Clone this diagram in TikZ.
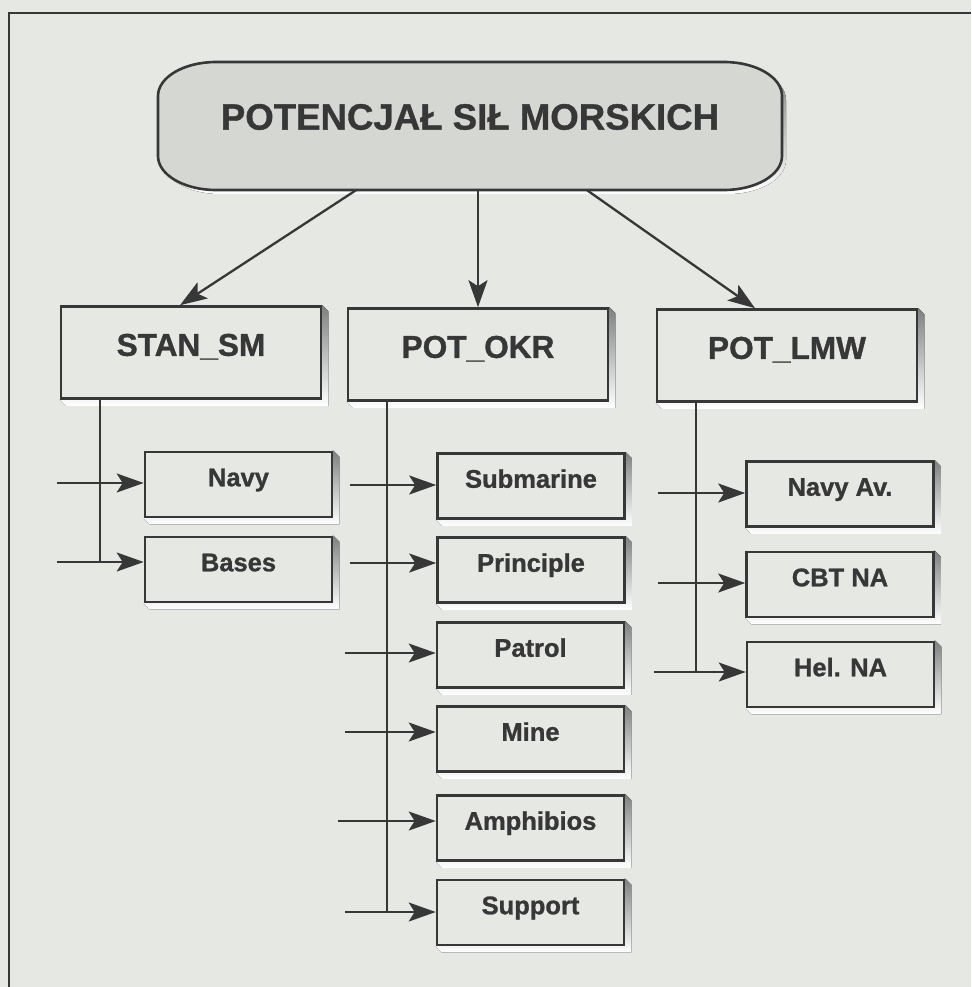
\documentclass[tikz,border=0pt]{standalone}
\usepackage{fontspec}
\setmainfont{Liberation Sans}[BoldFeatures={FakeBold=1}]
\usetikzlibrary{arrows.meta,backgrounds}

\definecolor{page}{RGB}{229,232,227}
\definecolor{ink}{RGB}{55,55,55}
\definecolor{shade}{RGB}{105,105,105}
\definecolor{capfill}{RGB}{213,215,211}

% outline of the top capsule with elliptical corners
\newcommand{\capsuleoutline}{%
  (216,62) -- (724,62)
  arc[start angle=90,end angle=0,x radius=58pt,y radius=34pt] -- (782,156)
  arc[start angle=0,end angle=-90,x radius=58pt,y radius=34pt] -- (216,190)
  arc[start angle=-90,end angle=-180,x radius=58pt,y radius=34pt] -- (158,96)
  arc[start angle=180,end angle=90,x radius=58pt,y radius=34pt] -- cycle}

\begin{document}
\begin{tikzpicture}[x=1pt,y=-1pt,
  box/.style={draw=ink, line width=2.6pt, fill=page, inner sep=0pt, text=ink,
    font=\bfseries\fontsize{25.5}{26}\selectfont,
    minimum width=187pt, minimum height=65pt,
    text height=17.5pt, text depth=14pt},
  head/.style={box, minimum width=260pt, minimum height=92pt,
    font=\bfseries\fontsize{31.6}{32}\selectfont,
    text height=21.7pt, text depth=15pt},
  link/.style={draw=ink, line width=2.3pt},
  arr/.style={link, -{Stealth[length=27pt,width=19pt,inset=6pt]}},
  frame/.style={draw=ink, line width=1.6pt},
]
\useasboundingbox (0,0) rectangle (971,987);

% page frame
\draw[frame] (9,987) -- (9,13) -- (971,13);

% top capsule with its shadow
\fill[shade, shift={(4,4)}] \capsuleoutline;
\draw[ink, line width=2.6pt, fill=capfill] \capsuleoutline;
\node[inner sep=0pt, text=ink, font=\bfseries\fontsize{36.6}{37}\selectfont,
      minimum width=624pt, minimum height=128pt,
      text height=25.2pt, text depth=18pt] (main) at (470,126)
      {POTENCJAŁ SIŁ MORSKICH};

% second level
\node[head] (stan) at (191,352.5) {STAN\_SM};
\node[head] (okr)  at (478,354.5) {POT\_OKR};
\node[head] (lmw)  at (787,355.5) {POT\_LMW};

% components of STAN_SM
\node[box] (navy)  at (238.5,484.5) {Navy};
\node[box] (bases) at (238.5,569.5) {Bases};

% components of POT_OKR
\node[box] (sub)    at (531,486)   {Submarine};
\node[box] (princ)  at (531,570)   {Principle};
\node[box] (patrol) at (530.5,655) {Patrol};
\node[box] (mine)   at (530.5,739) {Mine};
\node[box] (amph)   at (530.5,828) {Amphibios};
\node[box] (supp)   at (530.5,912.5) {Support};

% components of POT_LMW
\node[box] (navyav) at (840,494)   {Navy Av.};
\node[box] (cbt)    at (840,584.5) {CBT NA};
\node[box] (hel)    at (840.5,674.5) {Hel. NA};

% links from the capsule
\draw[arr] ([xshift=-114pt]main.south) -- ([xshift=-11pt]stan.north);
\draw[arr] (main.south -| okr.north) -- (okr.north);
\draw[arr] ([xshift=117pt]main.south) -- ([xshift=-32pt]lmw.north);

% free ends of the incoming arrows
\coordinate (inNavy)   at (57,483);
\coordinate (inBases)  at (57,562);
\coordinate (inSub)    at (350,485);
\coordinate (inPrinc)  at (350,563);
\coordinate (inPatrol) at (345,653);
\coordinate (inMine)   at (345,732);
\coordinate (inAmph)   at (338,821);
\coordinate (inSupp)   at (345,912);
\coordinate (inNavyAv) at (658,493);
\coordinate (inCbt)    at (658,583);
\coordinate (inHel)    at (654,672);

% trunks below the second level
\coordinate (trunkStan) at (100,562);
\coordinate (trunkOkr)  at (387,912);
\coordinate (trunkLmw)  at (696,672);
\draw[link] (trunkStan |- stan.south) -- (trunkStan);
\draw[link] (trunkOkr |- okr.south) -- (trunkOkr);
\draw[link] (trunkLmw |- lmw.south) -- (trunkLmw);

% incoming arrows
\foreach \src/\dst in {inNavy/navy, inBases/bases, inSub/sub, inPrinc/princ,
    inPatrol/patrol, inMine/mine, inAmph/amph, inSupp/supp,
    inNavyAv/navyav, inCbt/cbt, inHel/hel}
  \draw[arr] (\src) -- (\src -| \dst.west);

% page colour and bevel shadows of the boxes
\begin{scope}[on background layer]
  \fill[page] (0,0) rectangle (971,987);
  \foreach \n in {stan,okr,lmw,navy,bases,sub,princ,patrol,mine,amph,supp,navyav,cbt,hel}
    \fill[shade] (\n.north east) -- ([shift={(6,6)}]\n.north east)
      -- ([shift={(6,6)}]\n.south east) -- ([shift={(6,6)}]\n.south west)
      -- (\n.south west) -- cycle;
\end{scope}
\end{tikzpicture}
\end{document}
